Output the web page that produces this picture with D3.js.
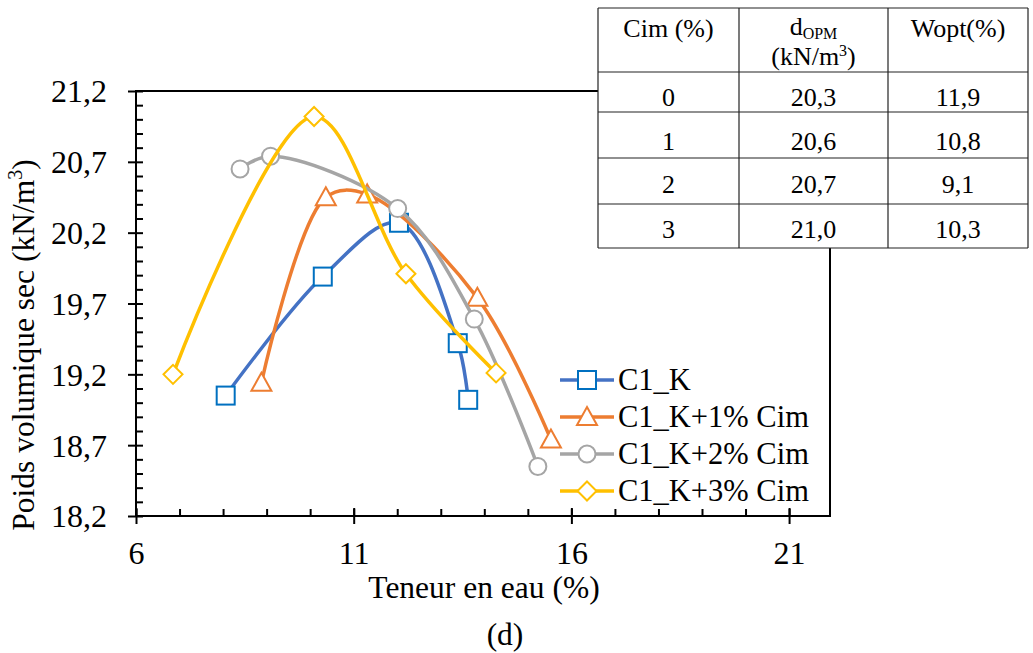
<!DOCTYPE html>
<html>
<head>
<meta charset="utf-8">
<script src="https://cdn.jsdelivr.net/npm/d3@7"></script>
<style>
  html, body { margin: 0; padding: 0; background: #fff; }
</style>
</head>
<body>
<svg id="chart" width="1033" height="653"></svg>
<script>
// ---------- data ----------
const seriesNames = ["C1_K", "C1_K+1% Cim", "C1_K+2% Cim", "C1_K+3% Cim"];
const waterK  = [8.06, 10.29, 12.04, 13.39, 13.63];
const dryK    = [19.05, 19.89, 20.27, 19.42, 19.02];
const water1  = [8.88, 10.36, 11.31, 13.84, 15.53];
const dry1    = [19.14, 20.45, 20.47, 19.74, 18.74];
const water2  = [8.39, 9.09, 12.01, 13.77, 15.23];
const dry2    = [20.65, 20.74, 20.37, 19.59, 18.55];
const water3  = [6.85, 10.09, 12.20, 14.27];
const dry3    = [19.20, 21.02, 19.91, 19.21];

const xTicks = [6, 11, 16, 21];
const yTicks = [18.2, 18.7, 19.2, 19.7, 20.2, 20.7, 21.2];

const tableHeader = ["Cim (%)", "dOPM", "Wopt(%)"];
const cimCol  = ["0", "1", "2", "3"];
const dopmCol = ["20,3", "20,6", "20,7", "21,0"];
const woptCol = ["11,9", "10,8", "9,1", "10,3"];

// ---------- styles ----------
const FONT = "Liberation Serif";
const lineColors   = ["#4472C4", "#ED7D31", "#A5A5A5", "#FFC000"];
const markerColors = ["#0070C0", "#ED7D31", "#A5A5A5", "#FFC000"];
const markerTypes  = ["square", "triangle", "circle", "diamond"];

const svg = d3.select("#chart");
const plot = { left: 136, right: 830, top: 91, bottom: 516 };

const x = d3.scaleLinear().domain([6, 21.94]).range([plot.left, plot.right]);
const y = d3.scaleLinear().domain([18.2, 21.2]).range([plot.bottom, plot.top]);

const fmt = d => d3.format(".1f")(d).replace(".", ",");

function txt(sel, size) {
  return sel.style("font-family", FONT).style("font-size", size + "px").attr("fill", "#000");
}

// plot border
svg.append("rect")
  .attr("x", plot.left).attr("y", plot.top)
  .attr("width", plot.right - plot.left).attr("height", plot.bottom - plot.top)
  .attr("fill", "none").attr("stroke", "#000").attr("stroke-width", 2);

// y minor ticks (inside)
const yMinor = d3.range(182, 213, 1).map(v => v / 10);
svg.append("g").attr("transform", `translate(${plot.left},0)`)
  .call(d3.axisRight(y).tickValues(yMinor).tickSize(7).tickFormat(""))
  .call(g => g.select(".domain").remove())
  .call(g => g.selectAll("line").attr("stroke", "#000").attr("stroke-width", 2));
// y major ticks + labels
svg.append("g").attr("transform", `translate(${plot.left},0)`)
  .call(d3.axisLeft(y).tickValues(yTicks).tickSize(8).tickPadding(21).tickFormat(fmt))
  .call(g => g.select(".domain").remove())
  .call(g => g.selectAll("line").attr("stroke", "#000").attr("stroke-width", 2))
  .call(g => txt(g.selectAll("text"), 32).attr("dy", "0.34em"));

// x minor ticks (inside)
const xMinor = d3.range(6, 22, 1);
svg.append("g").attr("transform", `translate(0,${plot.bottom})`)
  .call(d3.axisTop(x).tickValues(xMinor).tickSize(7).tickFormat(""))
  .call(g => g.select(".domain").remove())
  .call(g => g.selectAll("line").attr("stroke", "#000").attr("stroke-width", 2));
// x major ticks + labels
svg.append("g").attr("transform", `translate(0,${plot.bottom})`)
  .call(d3.axisBottom(x).tickValues(xTicks).tickSize(8).tickFormat(d3.format("d")))
  .call(g => g.select(".domain").remove())
  .call(g => g.selectAll("line").attr("stroke", "#000").attr("stroke-width", 2).attr("y1", -8))
  .call(g => txt(g.selectAll("text"), 32).attr("y", 48).attr("dy", 0));

// axis titles
txt(svg.append("text"), 31.5)
  .attr("x", 484).attr("y", 598)
  .attr("text-anchor", "middle")
  .text("Teneur en eau (%)");

const yt = txt(svg.append("text"), 31.5)
  .attr("transform", "translate(34,345) rotate(-90)")
  .attr("text-anchor", "middle");
yt.append("tspan").text("Poids volumique  sec (kN/m");
yt.append("tspan").style("font-size", "20px").attr("dy", -12).text("3");
yt.append("tspan").attr("dy", 12).text(")");

txt(svg.append("text"), 31.5)
  .attr("x", 505).attr("y", 645)
  .attr("text-anchor", "middle")
  .text("(d)");

// ---------- series ----------
const allSeries = [
  { name: seriesNames[0], xs: waterK, ys: dryK },
  { name: seriesNames[1], xs: water1, ys: dry1 },
  { name: seriesNames[2], xs: water2, ys: dry2 },
  { name: seriesNames[3], xs: water3, ys: dry3 }
];

const lineGen = d3.line()
  .x(d => x(d[0])).y(d => y(d[1]))
  .curve(d3.curveCatmullRom.alpha(0.5));

function drawMarker(g, type, cx, cy, color) {
  if (type === "square") {
    g.append("rect").attr("x", cx - 9).attr("y", cy - 9).attr("width", 18).attr("height", 18)
      .attr("fill", "#fff").attr("stroke", color).attr("stroke-width", 2);
  } else if (type === "triangle") {
    g.append("path").attr("d", `M${cx},${cy - 10}L${cx + 10},${cy + 8}L${cx - 10},${cy + 8}Z`)
      .attr("fill", "#fff").attr("stroke", color).attr("stroke-width", 2);
  } else if (type === "circle") {
    g.append("circle").attr("cx", cx).attr("cy", cy).attr("r", 8.5)
      .attr("fill", "#fff").attr("stroke", color).attr("stroke-width", 2);
  } else {
    g.append("path").attr("d", `M${cx},${cy - 9.5}L${cx + 9.5},${cy}L${cx},${cy + 9.5}L${cx - 9.5},${cy}Z`)
      .attr("fill", "#fff").attr("stroke", color).attr("stroke-width", 2);
  }
}

allSeries.forEach((s, i) => {
  const pts = s.xs.map((v, k) => [v, s.ys[k]]);
  const g = svg.append("g");
  g.append("path").datum(pts)
    .attr("d", lineGen)
    .attr("fill", "none").attr("stroke", lineColors[i]).attr("stroke-width", 3.5)
    .attr("stroke-linecap", "round");
  pts.forEach(p => drawMarker(g, markerTypes[i], x(p[0]), y(p[1]), markerColors[i]));
});

// ---------- legend ----------
const legendY = [380, 417, 454, 491];
seriesNames.forEach((n, i) => {
  const g = svg.append("g");
  g.append("line").attr("x1", 560).attr("x2", 614).attr("y1", legendY[i]).attr("y2", legendY[i])
    .attr("stroke", lineColors[i]).attr("stroke-width", 3.5);
  drawMarker(g, markerTypes[i], 587, legendY[i], markerColors[i]);
  txt(g.append("text"), 30.5).attr("x", 618).attr("y", legendY[i] + 10).text(n);
});

// ---------- table ----------
const colX = [598, 739, 888, 1028];
const rowY = [8, 72, 112, 158, 204, 248];
const tg = svg.append("g");
tg.append("rect").attr("x", colX[0]).attr("y", rowY[0])
  .attr("width", colX[3] - colX[0]).attr("height", rowY[5] - rowY[0])
  .attr("fill", "#fff");
rowY.forEach(ry => tg.append("line").attr("x1", colX[0]).attr("x2", colX[3]).attr("y1", ry).attr("y2", ry)
  .attr("stroke", "#222").attr("stroke-width", 1.2));
colX.forEach(cx => tg.append("line").attr("x1", cx).attr("x2", cx).attr("y1", rowY[0]).attr("y2", rowY[5])
  .attr("stroke", "#222").attr("stroke-width", 1.2));
const colC = [0, 1, 2].map(k => (colX[k] + colX[k + 1]) / 2);

txt(tg.append("text"), 26).attr("x", colC[0]).attr("y", 37).attr("text-anchor", "middle").text(tableHeader[0]);
const dh = txt(tg.append("text"), 26).attr("x", colC[1]).attr("y", 35).attr("text-anchor", "middle");
dh.append("tspan").text(tableHeader[1].slice(0, 1));
dh.append("tspan").style("font-size", "16px").attr("dy", 4).text(tableHeader[1].slice(1));
const dh2 = txt(tg.append("text"), 26).attr("x", colC[1]).attr("y", 65).attr("text-anchor", "middle");
dh2.append("tspan").text("(kN/m");
dh2.append("tspan").style("font-size", "16px").attr("dy", -9).text("3");
dh2.append("tspan").attr("dy", 9).text(")");
txt(tg.append("text"), 26).attr("x", colC[2]).attr("y", 37).attr("text-anchor", "middle").text(tableHeader[2]);

const rowBase = [106, 150, 193, 238];
[cimCol, dopmCol, woptCol].forEach((col, c) => {
  col.forEach((v, r) => {
    txt(tg.append("text"), 26).attr("x", colC[c]).attr("y", rowBase[r]).attr("text-anchor", "middle").text(v);
  });
});
</script>
</body>
</html>
